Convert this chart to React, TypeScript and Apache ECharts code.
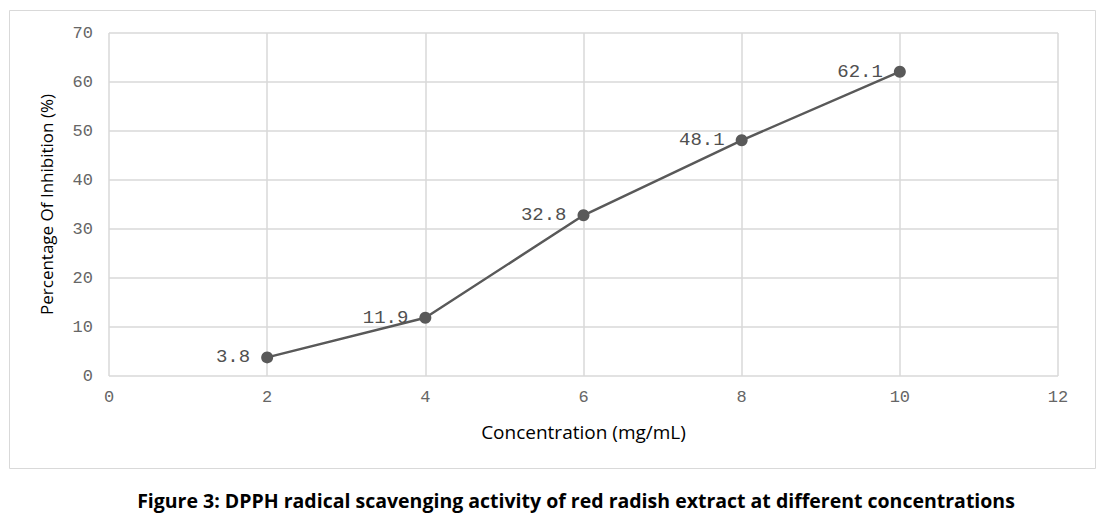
import React, { useEffect, useRef } from "react";
import * as echarts from "echarts";

const concentrations = [2, 4, 6, 8, 10];
const inhibition = [3.8, 11.9, 32.8, 48.1, 62.1];
const xTitle = "Concentration (mg/mL)";
const yTitle = "Percentage Of Inhibition (%)";
const caption = "Figure 3: DPPH radical scavenging activity of red radish extract at different concentrations";

export default function App() {
  const ref = useRef<HTMLDivElement>(null);
  useEffect(() => {
    document.body.style.margin = "0";
    const chart = echarts.init(ref.current!, null, { renderer: "svg" });
    chart.setOption({
      animation: false,
      backgroundColor: "#ffffff",
      grid: { left: 109, right: 47, top: 33, bottom: 146 },
      graphic: [
        {
          type: "rect",
          shape: { x: 9.5, y: 10.5, width: 1086, height: 458 },
          style: { fill: "none", stroke: "#d9d9d9", lineWidth: 1 },
          silent: true,
        },
        {
          type: "text",
          x: 576,
          y: 500,
          style: {
            text: caption,
            font: "bold 19.5px 'Open Sans', sans-serif",
            fill: "#000",
            align: "center",
            verticalAlign: "middle",
          },
        },
      ],
      xAxis: {
        type: "value",
        min: 0,
        max: 12,
        interval: 2,
        name: xTitle,
        nameLocation: "middle",
        nameGap: 46,
        nameTextStyle: { fontFamily: "'Open Sans', sans-serif", fontSize: 19, color: "#000" },
        axisLine: { show: false },
        axisTick: { show: false },
        axisLabel: { fontFamily: "'Liberation Mono', monospace", fontSize: 17, color: "#666666", margin: 13 },
        splitLine: { show: true, lineStyle: { color: "#d9d9d9", width: 1.5 } },
      },
      yAxis: {
        type: "value",
        min: 0,
        max: 70,
        interval: 10,
        name: yTitle,
        nameLocation: "middle",
        nameGap: 54,
        nameTextStyle: { fontFamily: "'Open Sans', sans-serif", fontSize: 17, color: "#000" },
        axisLine: { show: false },
        axisTick: { show: false },
        axisLabel: { fontFamily: "'Liberation Mono', monospace", fontSize: 17, color: "#666666", margin: 16 },
        splitLine: { show: true, lineStyle: { color: "#d9d9d9", width: 1.5 } },
      },
      series: [
        {
          type: "line",
          data: concentrations.map((c, i) => [c, inhibition[i]]),
          symbol: "circle",
          symbolSize: 12,
          lineStyle: { color: "#595959", width: 2.5 },
          itemStyle: { color: "#595959" },
          label: {
            show: true,
            position: "left",
            distance: 11,
            formatter: (p: any) => p.value[1].toFixed(1),
            fontFamily: "'Liberation Mono', monospace",
            fontSize: 19,
            color: "#505050",
          },
        },
      ],
    });
    return () => chart.dispose();
  }, []);
  return <div ref={ref} style={{ width: 1105, height: 522 }} />;
}
